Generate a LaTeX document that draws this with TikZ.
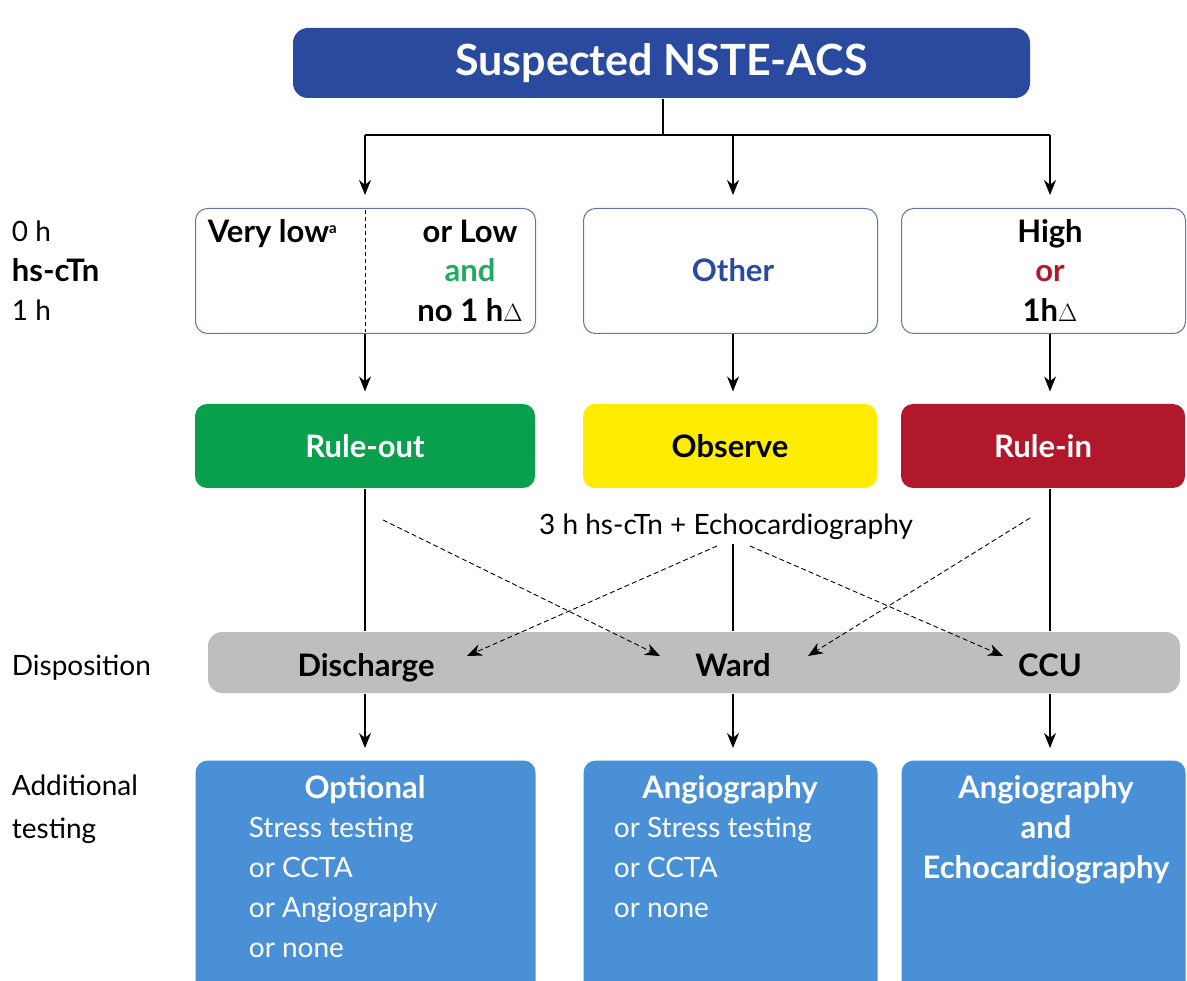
\documentclass[tikz,border=0pt]{standalone}
\usepackage{fontspec}
\setmainfont{Lato}
\usetikzlibrary{arrows.meta}

\definecolor{navy}{RGB}{42,74,160}
\definecolor{boxline}{RGB}{96,116,172}
\definecolor{outgreen}{RGB}{8,160,76}
\definecolor{andgreen}{RGB}{30,172,96}
\definecolor{obsyellow}{RGB}{255,236,0}
\definecolor{inred}{RGB}{178,24,44}
\definecolor{barg}{RGB}{190,190,190}
\definecolor{testblue}{RGB}{74,144,214}

\begin{document}
\begin{tikzpicture}[x=1pt,y=-1pt,
    line width=1.1pt,
    arr/.style={-{Stealth[length=15pt,width=12pt]}},
    dasharr/.style={arr,dash pattern=on 5pt off 3pt,line width=0.9pt},
    bigtxt/.style={font=\bfseries\fontsize{43}{50}\selectfont},
    boldtxt/.style={font=\bfseries\fontsize{31}{38}\selectfont},
    plaintxt/.style={font=\fontsize{28}{40}\selectfont},
    riskbox/.style={draw=boxline,line width=1pt,rounded corners=12pt,anchor=north west,minimum height=125},
    testbox/.style={fill=testblue,rounded corners=12pt,anchor=north west,minimum height=260}
  ]

  \useasboundingbox (0,0) rectangle (1187,981);
  \clip (0,0) rectangle (1187,981);

  % title
  \node[fill=navy,text=white,bigtxt,rounded corners=15pt,minimum width=737,minimum height=70] (nste) at (661.5,63) {Suspected NSTE-ACS};

  % first hs-cTn row
  \node[riskbox,minimum width=340] (vlow)  at (195,208) {};
  \node[riskbox,minimum width=294] (other) at (583,208) {};
  \node[riskbox,minimum width=284] (high)  at (901,208) {};
  \draw[dash pattern=on 4pt off 3pt,line width=0.8pt] (365,210) -- (365,332);

  \begin{scope}[every node/.style={boldtxt,anchor=base}]
    \node[anchor=base west] (vltxt) at (204,243) {Very low\textsuperscript{\fontsize{15}{15}\selectfont a}};
    \node (lowtxt) at (470,243) {or Low};
    \node[text=andgreen] (andtxt) at (470,282) {and};
    \node (nodelta) at (470,322) {no 1 h$\Delta$};
    \node[text=navy] (othtxt) at (733,282) {Other};
    \node (hightxt) at (1050,243) {High};
    \node[text=inred] (ortxt) at (1050,282) {or};
    \node (deltatxt) at (1050,322) {1h$\Delta$};
  \end{scope}

  % left labels
  \begin{scope}[every node/.style={plaintxt,anchor=base west}]
    \node (zeroh) at (8,242) {0 h};
    \node[boldtxt] (hsctn) at (8,282) {hs-cTn};
    \node (oneh) at (8,321) {1 h};
    \node (dispo) at (8,675) {Disposition};
    \node (addi) at (8,795) {Additional};
    \node (testing) at (8,838) {testing};
  \end{scope}

  % rule-out / observe / rule-in
  \begin{scope}[every node/.style={boldtxt,rounded corners=12pt,minimum height=84}]
    \node[fill=outgreen,text=white,minimum width=340] (ruleout) at (365,446) {Rule-out};
    \node[fill=obsyellow,minimum width=294] (observe) at (730,446) {Observe};
    \node[fill=inred,text=white,minimum width=284] (rulein) at (1043,446) {Rule-in};
  \end{scope}

  \node[plaintxt] (echo) at (726,527) {3 h hs-cTn + Echocardiography};

  % disposition bar
  \node[fill=barg,rounded corners=14pt,minimum width=972,minimum height=61] (bar) at (694,662.5) {};
  \begin{scope}[every node/.style={boldtxt,anchor=base}]
    \node (discharge) at (366,676) {Discharge};
    \node (ward) at (733,676) {Ward};
    \node (ccu) at (1050,676) {CCU};
  \end{scope}

  % additional testing
  \node[testbox,minimum width=340] (opt)   at (195,760) {};
  \node[testbox,minimum width=294] (angio) at (583,760) {};
  \node[testbox,minimum width=284] (echo2) at (901,760) {};

  \begin{scope}[every node/.style={text=white,anchor=north}]
    \node[boldtxt] (optt) at (365,772) {Optional};
    \node[plaintxt,align=left,anchor=north west] (optl) at (245,813) {Stress testing\\or CCTA\\or Angiography\\or none};
    \node[boldtxt] (angt) at (730,772) {Angiography};
    \node[plaintxt,align=left,anchor=north west] (angl) at (610,813) {or Stress testing\\or CCTA\\or none};
    \node[boldtxt,align=center,font=\bfseries\fontsize{31}{40}\selectfont] (echot) at (1046,772) {Angiography\\and\\Echocardiography};
  \end{scope}

  % connectors
  \coordinate (split) at (663,135);
  \coordinate (bl) at (365,135);
  \coordinate (bm) at (733,135);
  \coordinate (br) at (1050,135);
  \draw (nste.south -| split) -- (split);
  \draw (bl) -- (br);
  \draw[arr,shorten >=13pt] (bl) -- (bl |- vlow.north);
  \draw[arr,shorten >=13pt] (bm) -- (bm |- other.north);
  \draw[arr,shorten >=13pt] (br) -- (br |- high.north);

  \draw[arr,shorten >=12pt] (bl |- vlow.south) -- (bl |- ruleout.north);
  \draw[arr,shorten >=12pt] (bm |- other.south) -- (bm |- observe.north);
  \draw[arr,shorten >=12pt] (br |- high.south) -- (br |- rulein.north);

  \draw (bl |- ruleout.south) -- (bl |- bar.north);
  \draw (bm |- echo.south) -- (bm |- bar.north);
  \draw (br |- rulein.south) -- (br |- bar.north);

  \coordinate (d1s) at (383,520);  \coordinate (d1e) at (660,656);
  \coordinate (d2s) at (717,546);  \coordinate (d2e) at (467,656);
  \coordinate (d3s) at (750,546);  \coordinate (d3e) at (1003,656);
  \coordinate (d4s) at (1030,518); \coordinate (d4e) at (808,656);
  \draw[dasharr] (d1s) -- (d1e);
  \draw[dasharr] (d2s) -- (d2e);
  \draw[dasharr] (d3s) -- (d3e);
  \draw[dasharr] (d4s) -- (d4e);

  \draw[arr,shorten >=12pt] (bl |- bar.south) -- (bl |- opt.north);
  \draw[arr,shorten >=12pt] (bm |- bar.south) -- (bm |- angio.north);
  \draw[arr,shorten >=12pt] (br |- bar.south) -- (br |- echo2.north);

\end{tikzpicture}
\end{document}
